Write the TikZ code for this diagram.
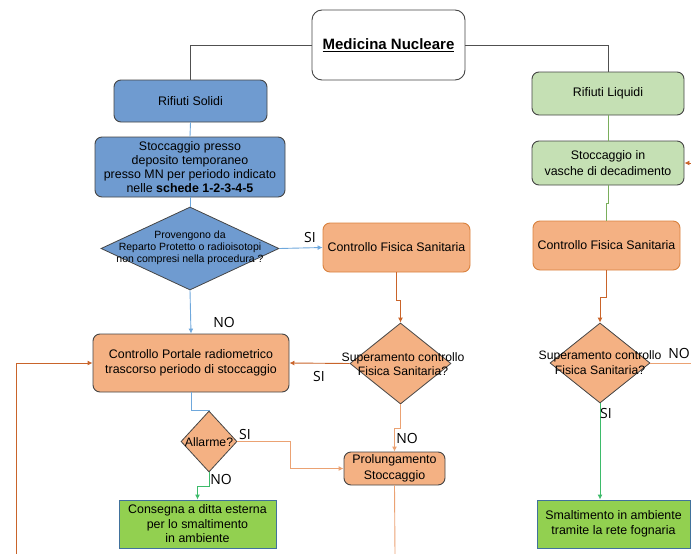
\documentclass[tikz,border=0pt]{standalone}
\usepackage{fontspec}
\setmainfont{Liberation Sans}
\newfontfamily\tagfont{Open Sans}
\usetikzlibrary{shapes.geometric,arrows.meta}

\definecolor{solidfill}{HTML}{6F9BD0}
\definecolor{solidline}{HTML}{6FA8DC}
\definecolor{boxborder}{HTML}{454545}
\definecolor{checkfill}{HTML}{F4B183}
\definecolor{checkborder}{HTML}{D9823F}
\definecolor{flowdark}{HTML}{C9642A}
\definecolor{flowlight}{HTML}{EBA273}
\definecolor{liquidfill}{HTML}{C5E0B4}
\definecolor{liquidline}{HTML}{7AAE5C}
\definecolor{dischargefill}{HTML}{92D050}
\definecolor{dischargeborder}{HTML}{41719C}
\definecolor{exitline}{HTML}{3DBB6A}
\definecolor{rootline}{HTML}{505050}

\tikzset{
  basebox/.style={draw=boxborder, line width=0.9pt, rounded corners=7pt,
    align=center, inner sep=0pt,
    font=\fontsize{12.4}{15}\selectfont},
  solidbox/.style={basebox, fill=solidfill},
  checkbox/.style={basebox, fill=checkfill},
  fsbox/.style={basebox, fill=checkfill, draw=checkborder},
  liquidbox/.style={basebox, fill=liquidfill},
  dischargebox/.style={basebox, rounded corners=0pt, fill=dischargefill, draw=dischargeborder},
  rootbox/.style={draw=boxborder, line width=0.9pt, rounded corners=10pt, fill=white,
    inner sep=0pt, font=\fontsize{15}{18}\selectfont\bfseries},
  decision/.style={diamond, draw=boxborder, line width=0.8pt, inner sep=0pt, aspect=1},
  dtext/.style={align=center, inner sep=0pt, font=\fontsize{12.2}{14.5}\selectfont},
  tag/.style={inner sep=0pt, font=\tagfont\fontsize{14}{16}\selectfont},
  tip/.style={-{Latex[length=5pt,width=5pt]}},
  rootflow/.style={draw=rootline, line width=0.9pt},
  blueflow/.style={draw=solidline, line width=0.9pt},
  darkflow/.style={draw=flowdark, line width=0.9pt},
  lightflow/.style={draw=flowlight, line width=0.9pt},
  greenflow/.style={draw=liquidline, line width=0.9pt},
  exitflow/.style={draw=exitline, line width=0.9pt},
}

\begin{document}
\begin{tikzpicture}[x=1pt,y=-1pt]
\useasboundingbox (0,0) rectangle (691,554);
\clip (0,0) rectangle (691,554);

% root
\node[rootbox, minimum width=153pt, minimum height=70pt] (mn) at (388.5,45) {\underline{Medicina Nucleare}};

% solid waste column
\node[solidbox, minimum width=153pt, minimum height=42pt] (rs) at (190.5,101) {Rifiuti Solidi};
\node[solidbox, minimum width=190pt, minimum height=60pt,
      font=\fontsize{12.4}{14}\selectfont] (sp) at (190,167)
  {Stoccaggio presso\\deposito temporaneo\\presso MN per periodo indicato\\nelle \textbf{schede 1-2-3-4-5}};
\node[decision, fill=solidfill, minimum width=178pt, minimum height=83pt] (d1) at (190,248.5) {};
\node[dtext, font=\fontsize{10.5}{12}\selectfont] (d1t) at (190,248)
  {Provengono da\\Reparto Protetto o radioisotopi\\non compresi nella procedura ?};

\node[fsbox, minimum width=147pt, minimum height=49pt] (cfs1) at (396.5,247.5) {Controllo Fisica Sanitaria};
\node[decision, fill=checkfill, minimum width=101pt, minimum height=81pt] (d2) at (400.5,363.5) {};
\node[dtext] (d2t) at (403,364) {Superamento controllo\\Fisica Sanitaria?};

\node[checkbox, minimum width=196pt, minimum height=58pt] (cp) at (191,363) {Controllo Portale radiometrico\\trascorso periodo di stoccaggio};
\node[decision, fill=checkfill, minimum width=56pt, minimum height=61pt] (al) at (209,441.5) {};
\node[dtext] (alt) at (209,442) {Allarme?};
\node[checkbox, minimum width=101pt, minimum height=33pt, font=\fontsize{12.4}{16}\selectfont] (pr) at (394.5,468.5) {Prolungamento\\Stoccaggio};
\node[dischargebox, minimum width=157pt, minimum height=48pt, font=\fontsize{12.4}{14.5}\selectfont] (cons) at (197.5,524) {Consegna a ditta esterna\\per lo smaltimento\\in ambiente};

% liquid waste column
\node[liquidbox, minimum width=152pt, minimum height=43pt] (rl) at (608,93.5) {Rifiuti Liquidi};
\node[liquidbox, minimum width=152pt, minimum height=44pt, font=\fontsize{12.4}{16}\selectfont] (sv) at (608,163) {Stoccaggio in\\vasche di decadimento};
\node[fsbox, minimum width=147pt, minimum height=49pt] (cfs2) at (606.5,245.5) {Controllo Fisica Sanitaria};
\node[decision, fill=checkfill, minimum width=100pt, minimum height=80pt] (d3) at (600,363) {};
\node[dtext] (d3t) at (600,362.5) {Superamento controllo\\Fisica Sanitaria?};
\node[dischargebox, minimum width=153pt, minimum height=48pt, font=\fontsize{12.4}{15}\selectfont] (sm) at (613.5,524) {Smaltimento in ambiente\\tramite la rete fognaria};

% loose ends at the picture border
\coordinate (prout) at (395,554);
\coordinate (loopin) at (16,554);
\coordinate (d3out) at (691,363);
\coordinate (svin) at (691,163);

% root connectors
\draw[rootflow] (mn.west) -| (rs.north);
\draw[rootflow] (mn.east) -| (rl.north);

% solid waste connectors
\draw[blueflow] (rs.south) -- (sp.north);
\draw[blueflow] (sp.south) -- (d1.north);
\draw[blueflow, tip] (d1.east) -- (cfs1.west);
\draw[blueflow, tip] (d1.south) -- (cp.north);
\draw[darkflow, tip] (cfs1.south) -- ++(0,28) -| (d2.north);
\draw[darkflow, tip] (d2.west) -- (cp.east);
\draw[lightflow, tip] (d2.south) -- ++(0,24) -| (pr.north);
\draw[blueflow] (cp.south) -- ++(0,18) -| (al.north);
\draw[lightflow, tip] (al.east) -- ++(53,0) |- (pr.west);
\draw[exitflow, tip] (al.south) -- ++(0,14) -| (cons.north);
\draw[lightflow] (pr.south) -- (prout);
\draw[darkflow, tip] (loopin) |- (cp.west);

% liquid waste connectors
\draw[greenflow] (rl.south) -- (sv.north);
\draw[greenflow] (sv.south) -- ++(0,18) -| (cfs2.north);
\draw[darkflow, tip] (svin) -- (sv.east);
\draw[darkflow, tip] (cfs2.south) -- ++(0,27) -| (d3.north);
\draw[lightflow] (d3.east) -- (d3out);
\draw[exitflow, tip] (d3.south) -- (d3.south |- sm.north);

% branch tags
\node[tag] (t1) at (310,237) {SI};
\node[tag] (t2) at (224,322) {NO};
\node[tag] (t3) at (319,376) {SI};
\node[tag] (t4) at (407,438) {NO};
\node[tag] (t5) at (245,434) {SI};
\node[tag] (t6) at (221,479) {NO};
\node[tag] (t7) at (679,353) {NO};
\node[tag] (t8) at (606,413) {SI};
\end{tikzpicture}
\end{document}
